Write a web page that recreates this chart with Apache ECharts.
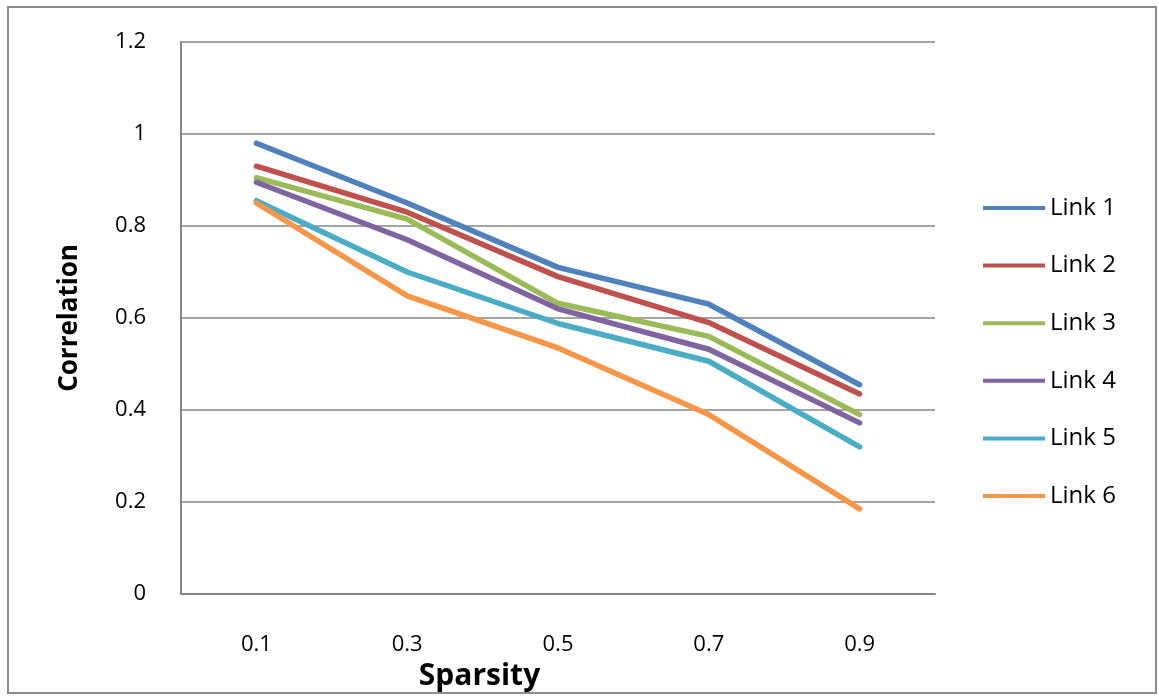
<!DOCTYPE html>
<html>
<head>
<meta charset="utf-8">
<script src="https://cdn.jsdelivr.net/npm/echarts@6/dist/echarts.min.js"></script>
<style>
html, body { margin: 0; padding: 0; background: #fff; }
#chart { width: 1159px; height: 698px; }
</style>
</head>
<body>
<div id="chart"></div>
<script>
// Sparsity levels on the x axis
const sparsity = ['0.1', '0.3', '0.5', '0.7', '0.9'];

// Correlation per link
const link1 = [0.98, 0.85, 0.71, 0.63, 0.455];
const link2 = [0.93, 0.83, 0.69, 0.59, 0.435];
const link3 = [0.905, 0.815, 0.632, 0.56, 0.39];
const link4 = [0.895, 0.77, 0.62, 0.532, 0.372];
const link5 = [0.855, 0.70, 0.588, 0.506, 0.32];
const link6 = [0.85, 0.648, 0.535, 0.39, 0.185];

const seriesNames = ['Link 1', 'Link 2', 'Link 3', 'Link 4', 'Link 5', 'Link 6'];
const seriesValues = [link1, link2, link3, link4, link5, link6];
const colors = ['#4F81BD', '#C0504D', '#9BBB59', '#8064A2', '#4BACC6', '#F79646'];

const font = 'Open Sans, Lato, sans-serif';

const chart = echarts.init(document.getElementById('chart'));
chart.setOption({
  animation: false,
  color: colors,
  graphic: [{
    type: 'rect',
    shape: { x: 8, y: 7, width: 1148, height: 686 },
    style: { fill: 'none', stroke: '#8c8c8c', lineWidth: 2 },
    silent: true
  }],
  grid: { left: 181, top: 42, right: 224, bottom: 104 },
  legend: {
    orient: 'vertical',
    left: 983,
    top: 195,
    padding: 0,
    icon: 'rect',
    itemWidth: 62,
    itemHeight: 4,
    itemGap: 31.6,
    textStyle: { fontFamily: font, fontSize: 24, color: '#000', lineHeight: 26 },
    data: seriesNames
  },
  xAxis: {
    type: 'category',
    data: sparsity,
    boundaryGap: true,
    axisTick: { show: false },
    axisLine: { lineStyle: { color: '#868686', width: 2 } },
    axisLabel: { fontFamily: font, fontSize: 22, color: '#000', margin: 40 },
    name: 'Sparsity',
    nameLocation: 'middle',
    nameGap: 67,
    nameTextStyle: { fontFamily: font, fontSize: 30, fontWeight: 'bold', color: '#000', padding: [0, 157, 0, 0] }
  },
  yAxis: {
    type: 'value',
    min: 0,
    max: 1.2,
    interval: 0.2,
    axisLine: { show: true, lineStyle: { color: '#868686', width: 2 } },
    axisTick: { show: false },
    axisLabel: { fontFamily: font, fontSize: 22, color: '#000', margin: 35 },
    splitLine: { lineStyle: { color: '#868686', width: 1.5 } },
    name: 'Correlation',
    nameLocation: 'middle',
    nameGap: 98,
    nameTextStyle: { fontFamily: font, fontSize: 26, fontWeight: 'bold', color: '#000' }
  },
  series: seriesNames.map((name, i) => ({
    name: name,
    type: 'line',
    data: seriesValues[i],
    symbol: 'none',
    lineStyle: { width: 5.5, cap: 'round', join: 'round' }
  }))
});
</script>
</body>
</html>
